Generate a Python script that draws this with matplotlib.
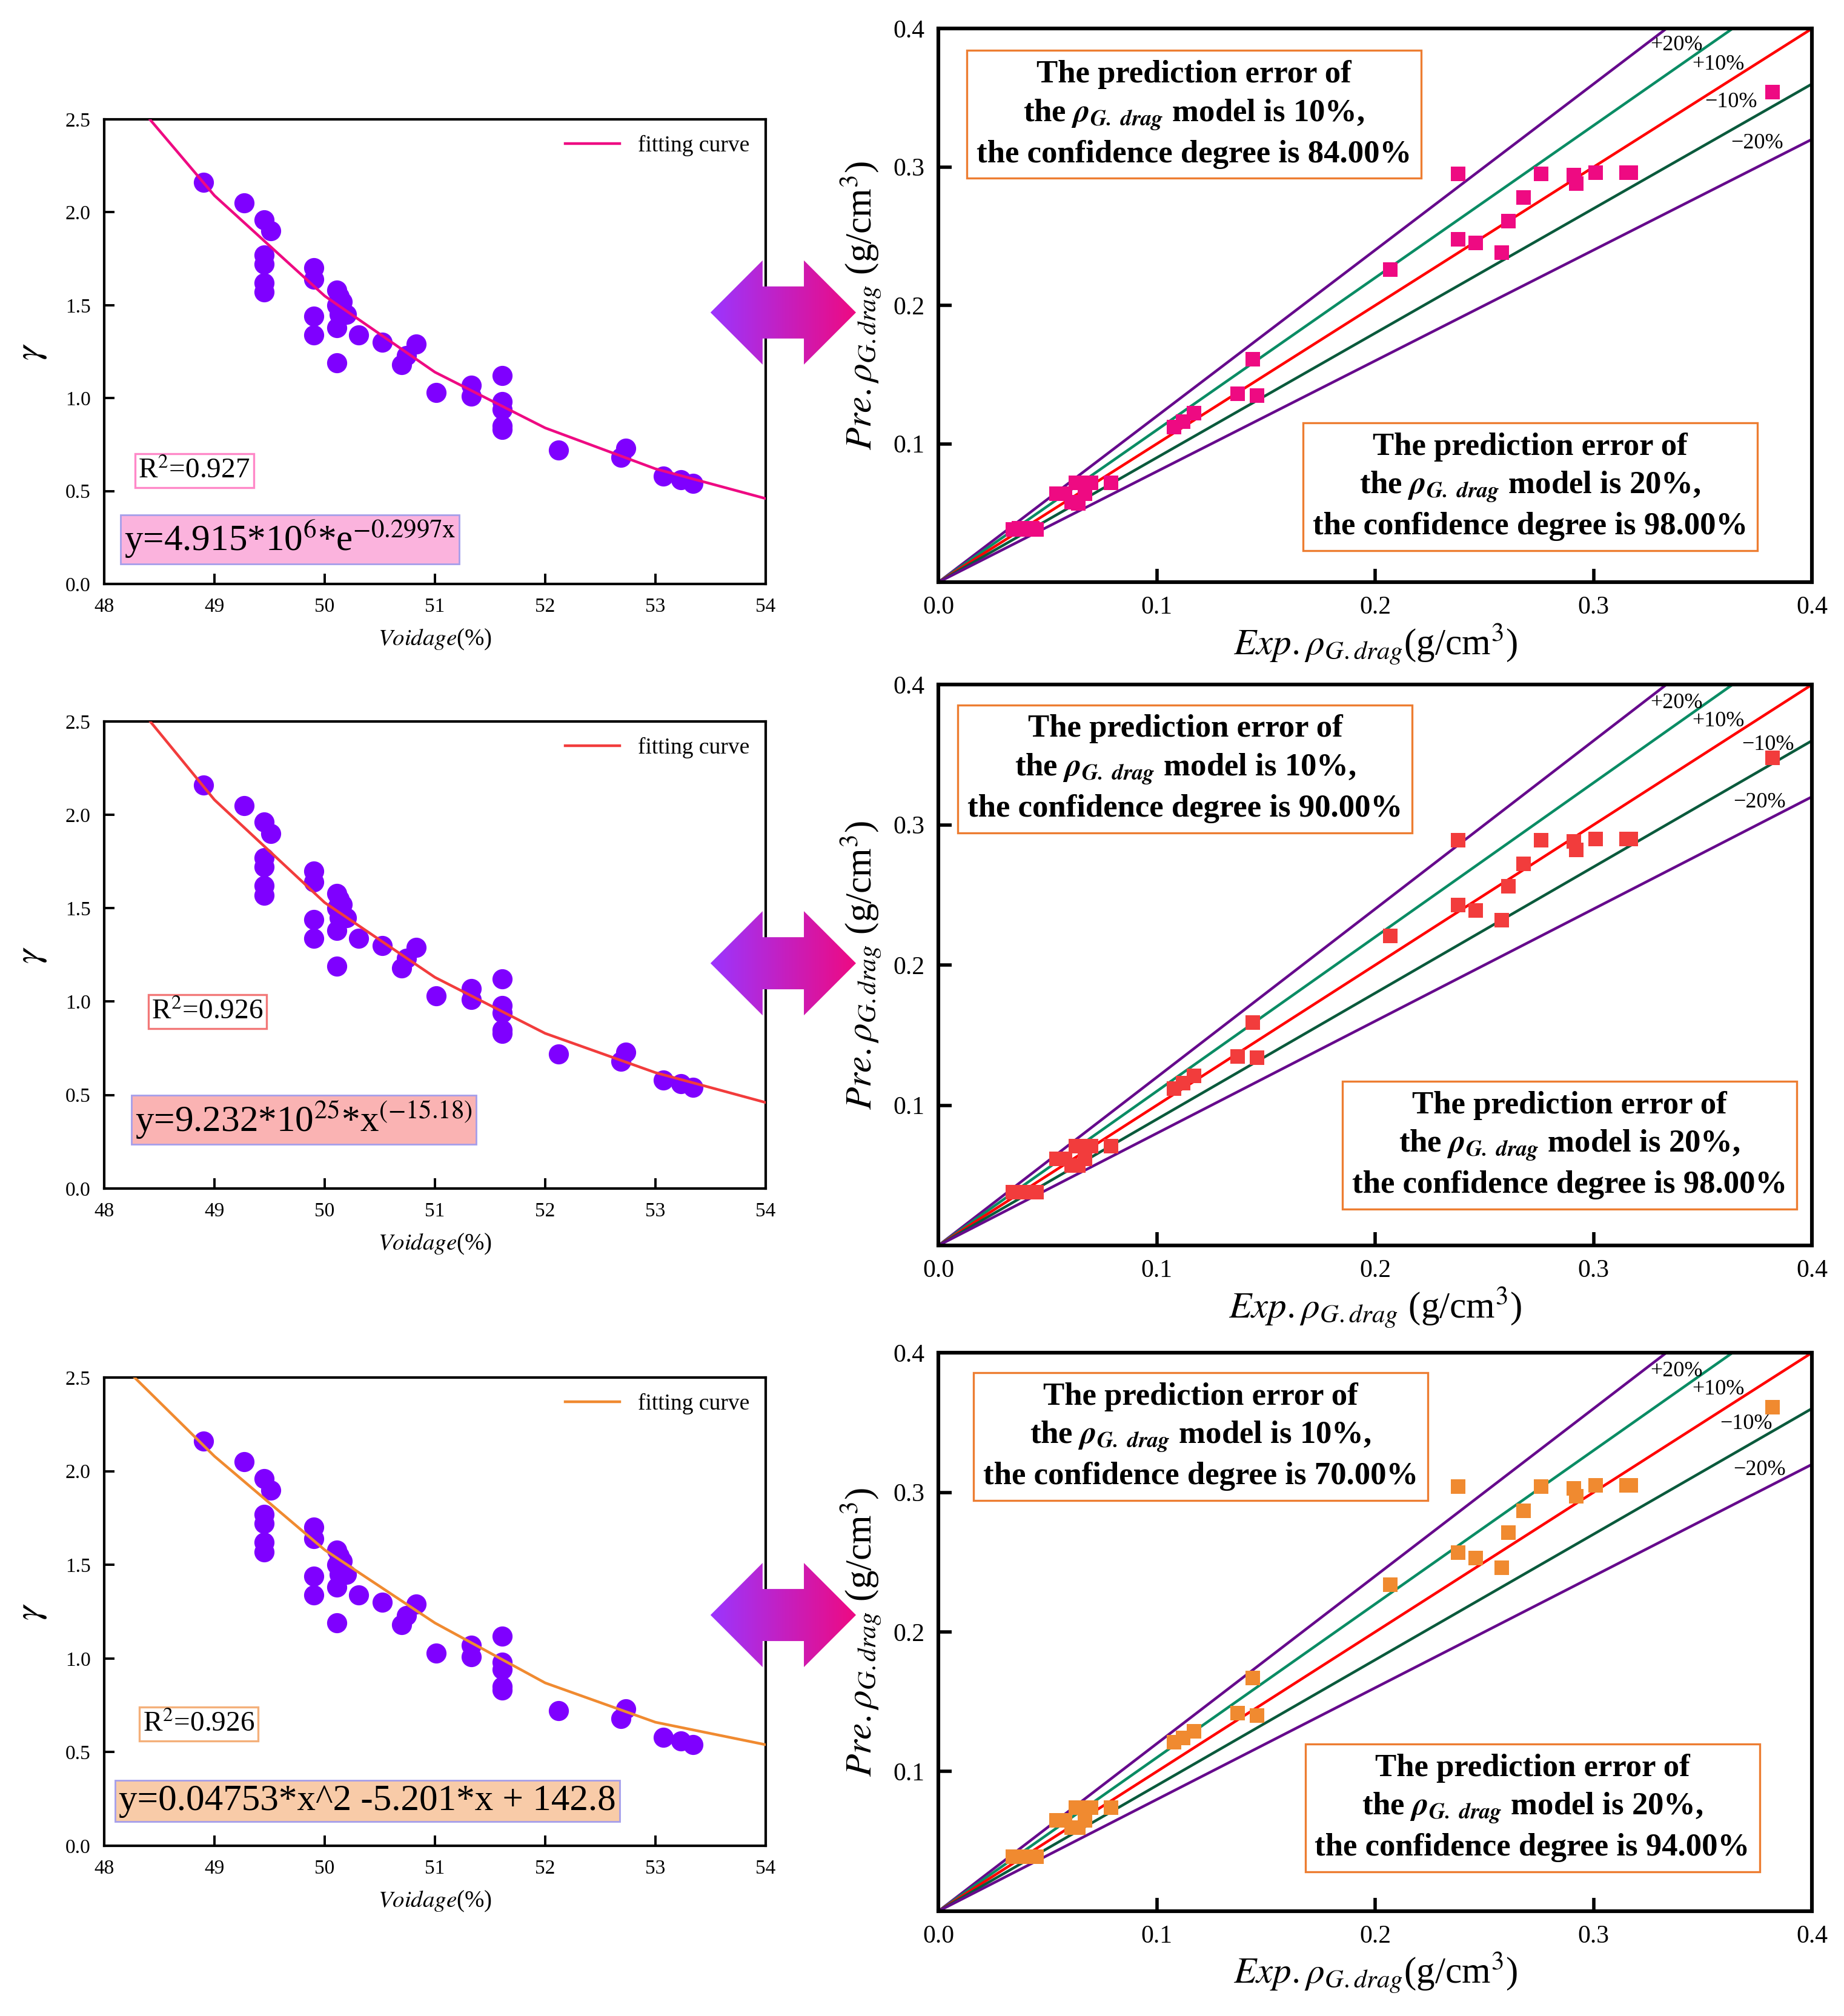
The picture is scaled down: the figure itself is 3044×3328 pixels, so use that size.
import numpy as np
import matplotlib
matplotlib.use("Agg")
from matplotlib import pyplot as plt
from matplotlib.patches import Polygon
from matplotlib.colors import LinearSegmentedColormap

plt.rcParams['font.family'] = ['Liberation Serif', 'DejaVu Serif']
plt.rcParams['mathtext.fontset'] = 'stix'

# ---- left panels: gamma vs voidage (same points in all three) ----
voidage = [48.90, 49.27, 49.45, 49.51, 49.45, 49.45, 49.45, 49.45, 49.90, 49.90,
           49.90, 49.90, 50.11, 50.13, 50.16, 50.11, 50.13, 50.20, 50.11, 50.11,
           50.31, 50.52, 50.74, 50.70, 50.83, 51.01, 51.33, 51.33, 51.61, 51.61,
           51.61, 51.61, 51.61, 52.12, 52.69, 52.73, 53.07, 53.23, 53.34]
gamma = [2.16, 2.05, 1.96, 1.90, 1.77, 1.72, 1.62, 1.57, 1.70, 1.64,
         1.44, 1.34, 1.58, 1.55, 1.52, 1.50, 1.45, 1.45, 1.38, 1.19,
         1.34, 1.30, 1.23, 1.18, 1.29, 1.03, 1.07, 1.01, 1.12, 0.98,
         0.94, 0.85, 0.83, 0.72, 0.68, 0.73, 0.58, 0.56, 0.54]

fit_x = [48, 49, 50, 51, 52, 53, 54]
fit_exp = [2.79, 2.09, 1.55, 1.14, 0.84, 0.62, 0.46]
fit_pow = [2.80, 2.08, 1.53, 1.13, 0.83, 0.62, 0.46]
fit_quad = [2.66, 2.08, 1.58, 1.19, 0.87, 0.66, 0.54]

r2_labels = [r'R$^{2}$=0.927', r'R$^{2}$=0.926', r'R$^{2}$=0.926']
eq_labels = [r'y=4.915*10$^{6}$*e$^{-0.2997\mathrm{x}}$',
             r'y=9.232*10$^{25}$*x$^{(-15.18)}$',
             'y=0.04753*x^2 -5.201*x + 142.8']

# ---- right panels: predicted vs experimental ----
exp_rho = [0.034, 0.037, 0.040, 0.043, 0.045, 0.054, 0.058, 0.061, 0.063, 0.064,
           0.067, 0.068, 0.070, 0.079, 0.108, 0.112, 0.117, 0.137, 0.144, 0.146,
           0.207, 0.238, 0.238, 0.246, 0.258, 0.261, 0.268, 0.276, 0.291, 0.292,
           0.301, 0.315, 0.317, 0.382]
pre_exp = [0.038, 0.039, 0.038, 0.039, 0.038, 0.064, 0.064, 0.058, 0.072, 0.057,
           0.064, 0.072, 0.072, 0.072, 0.112, 0.116, 0.122, 0.136, 0.161, 0.135,
           0.226, 0.295, 0.248, 0.245, 0.238, 0.261, 0.278, 0.295, 0.294, 0.288,
           0.296, 0.296, 0.296, 0.354]
pre_pow = [0.038, 0.038, 0.038, 0.038, 0.038, 0.062, 0.062, 0.057, 0.071, 0.057,
           0.062, 0.071, 0.071, 0.071, 0.112, 0.116, 0.121, 0.135, 0.159, 0.134,
           0.221, 0.289, 0.243, 0.239, 0.232, 0.256, 0.272, 0.289, 0.288, 0.282,
           0.290, 0.290, 0.290, 0.348]
pre_quad = [0.039, 0.039, 0.039, 0.039, 0.039, 0.065, 0.065, 0.060, 0.074, 0.060,
            0.065, 0.074, 0.074, 0.074, 0.121, 0.124, 0.129, 0.142, 0.167, 0.140,
            0.234, 0.304, 0.257, 0.253, 0.246, 0.271, 0.287, 0.304, 0.303, 0.297,
            0.305, 0.305, 0.305, 0.361]

err_slopes = [1.2, 1.1, 1.0, 0.9, 0.8]
err_colors = ['#660A8C', '#0A8C64', '#FF0000', '#0A5A3C', '#660A8C']
err_labels = ['+20%', '+10%', '−10%', '−20%']
err_label_pos = [
    [(0.326, 0.388), (0.345, 0.374), (0.351, 0.347), (0.363, 0.317)],
    [(0.326, 0.387), (0.345, 0.374), (0.368, 0.357), (0.364, 0.316)],
    [(0.326, 0.387), (0.345, 0.374), (0.358, 0.349), (0.364, 0.316)],
]

conf10 = ['84.00%', '90.00%', '70.00%']
conf20 = ['98.00%', '98.00%', '94.00%']

colors = ['#EE0A82', '#F23C3C', '#F08A30']
r2_edges = ['#FF88C8', '#F27878', '#F4B07A']
eq_fills = ['#FBB3DD', '#FAB3B3', '#F8CBA8']

fig = plt.figure(figsize=(15.22, 16.64), dpi=200)

left_pos = [[0.0565, 0.7103, 0.3587, 0.2305],
            [0.0565, 0.4105, 0.3587, 0.2317],
            [0.0565, 0.0844, 0.3587, 0.2323]]
right_pos = [[0.5089, 0.7112, 0.4737, 0.2746],
             [0.5089, 0.3822, 0.4737, 0.2782],
             [0.5089, 0.0520, 0.4737, 0.2770]]
r2_xy = [(48.31, 0.61), (48.43, 0.946), (48.35, 0.65)]
eq_xy = [(48.18, 0.24), (48.28, 0.367), (48.13, 0.24)]
box10_xy = [(0.117, 0.338), (0.113, 0.340), (0.120, 0.340)]
box20_xy = [(0.271, 0.069), (0.289, 0.0715), (0.272, 0.074)]
arrow_y = [0.8450, 0.5222, 0.1989]

fit_sets = [fit_exp, fit_pow, fit_quad]
pre_sets = [pre_exp, pre_pow, pre_quad]
xlab_gap = ['', ' ', '']

for i in range(3):
    # left panel
    ax = fig.add_axes(left_pos[i])
    ax.plot(fit_x, fit_sets[i], color=colors[i], lw=1.6, label='fitting curve', zorder=3)
    ax.scatter(voidage, gamma, s=120, color='#7F00FF', zorder=2)
    ax.set_xlim(48, 54)
    ax.set_ylim(0, 2.5)
    ax.set_xticks([48, 49, 50, 51, 52, 53, 54])
    ax.set_yticks([0.0, 0.5, 1.0, 1.5, 2.0, 2.5])
    ax.set_yticklabels(['0.0', '0.5', '1.0', '1.5', '2.0', '2.5'])
    ax.tick_params(direction='in', length=6, width=1.4, labelsize=12, pad=8)
    for s in ax.spines.values():
        s.set_linewidth(1.5)
    ax.set_xlabel(r'$\mathit{Voidage}$(%)', fontsize=14, labelpad=7)
    ax.set_ylabel(r'$\gamma$', fontsize=22, labelpad=10)
    ax.legend(loc='upper right', frameon=False, fontsize=13.5, handlelength=2.4,
              borderaxespad=0.3)
    ax.text(r2_xy[i][0], r2_xy[i][1], r2_labels[i], fontsize=17, ha='left', va='center',
            bbox=dict(boxstyle='square,pad=0.12', fc='white', ec=r2_edges[i], lw=1.2))
    ax.text(eq_xy[i][0], eq_xy[i][1], eq_labels[i], fontsize=22, ha='left', va='center',
            bbox=dict(boxstyle='square,pad=0.1', fc=eq_fills[i], ec='#A59EEA', lw=1.0))

    # right panel
    ax = fig.add_axes(right_pos[i])
    for k, c in zip(err_slopes, err_colors):
        ax.axline((0, 0), slope=k, color=c, lw=1.6, zorder=2)
    ax.scatter(exp_rho, pre_sets[i], marker='s', s=72, color=colors[i], zorder=3, lw=0)
    for lab, (lx, ly) in zip(err_labels, err_label_pos[i]):
        ax.text(lx, ly, lab, fontsize=13, ha='left', va='center')
    ax.set_xlim(0, 0.4)
    ax.set_ylim(0, 0.4)
    ax.set_xticks([0.0, 0.1, 0.2, 0.3, 0.4])
    ax.set_xticklabels(['0.0', '0.1', '0.2', '0.3', '0.4'])
    ax.set_yticks([0.1, 0.2, 0.3, 0.4])
    ax.set_yticklabels(['0.1', '0.2', '0.3', '0.4'])
    ax.tick_params(direction='in', length=8, width=2, labelsize=15, pad=8)
    for s in ax.spines.values():
        s.set_linewidth(2.2)
    ax.set_xlabel(r'$Exp.\rho_{G.drag}$' + xlab_gap[i] + r'(g/cm$^{3}$)', fontsize=22,
                  labelpad=2)
    ax.set_ylabel(r'$Pre.\rho_{G.drag}$ (g/cm$^{3}$)', fontsize=22, labelpad=6)
    t10 = ('The prediction error of\n'
           r'the $\mathbfit{\rho}_{\mathbfit{G.\ drag}}$ model is 10%,' + '\n'
           'the confidence degree is ' + conf10[i])
    t20 = ('The prediction error of\n'
           r'the $\mathbfit{\rho}_{\mathbfit{G.\ drag}}$ model is 20%,' + '\n'
           'the confidence degree is ' + conf20[i])
    for txt, (bx, by) in [(t10, box10_xy[i]), (t20, box20_xy[i])]:
        ax.text(bx, by, txt, fontsize=19, fontweight='bold', ha='center', va='center',
                linespacing=1.35, zorder=4,
                bbox=dict(boxstyle='square,pad=0.3', fc='white', ec='#ED7D31', lw=1.2))

# double arrows between the panels
cmap = LinearSegmentedColormap.from_list('arrow', ['#9B35FF', '#EE0A82'])
for yc in arrow_y:
    x0, x1 = 0.3853, 0.4642
    hh = 0.02584
    aax = fig.add_axes([x0, yc - hh, x1 - x0, 2 * hh])
    aax.set_xlim(0, 1)
    aax.set_ylim(0, 1)
    aax.axis('off')
    a = 0.358
    shape = [(0, 0.5), (a, 1), (a, 0.75), (1 - a, 0.75), (1 - a, 1), (1, 0.5),
             (1 - a, 0), (1 - a, 0.25), (a, 0.25), (a, 0)]
    poly = Polygon(shape, closed=True, fc='none', ec='none', transform=aax.transData)
    aax.add_patch(poly)
    im = aax.imshow(np.linspace(0, 1, 256).reshape(1, -1), cmap=cmap, extent=[0, 1, 0, 1],
                    aspect='auto')
    im.set_clip_path(poly)

fig.savefig('out.png', dpi=200)
